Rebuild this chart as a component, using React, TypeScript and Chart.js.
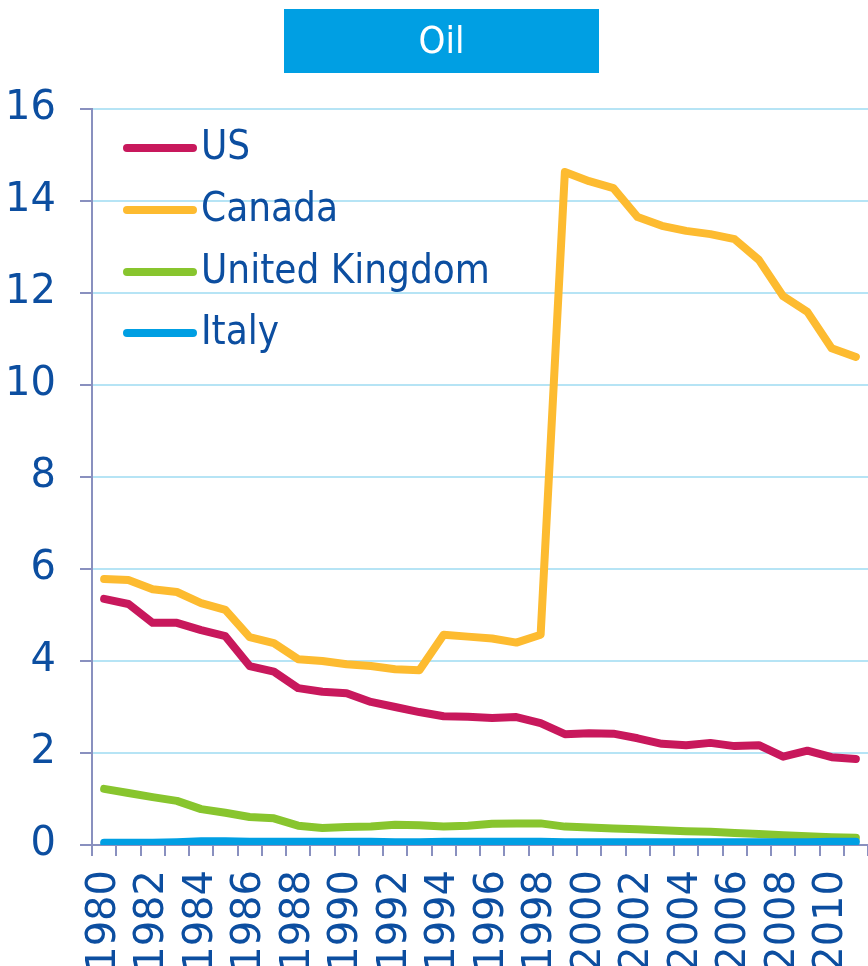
import React, { useEffect, useRef } from "react";
import { Chart, registerables } from "chart.js";

Chart.register(...registerables);

const years: string[] = [
  "1980","1981","1982","1983","1984","1985","1986","1987","1988","1989",
  "1990","1991","1992","1993","1994","1995","1996","1997","1998","1999",
  "2000","2001","2002","2003","2004","2005","2006","2007","2008","2009",
  "2010","2011",
];

const usValues: number[] = [
  5.35, 5.24, 4.83, 4.83, 4.67, 4.54, 3.89, 3.77, 3.41, 3.33,
  3.30, 3.11, 3.00, 2.89, 2.80, 2.79, 2.76, 2.78, 2.65, 2.41,
  2.43, 2.42, 2.32, 2.20, 2.17, 2.22, 2.15, 2.17, 1.92, 2.05,
  1.91, 1.87,
];

const canadaValues: number[] = [
  5.78, 5.76, 5.56, 5.50, 5.26, 5.11, 4.52, 4.39, 4.04, 4.00,
  3.93, 3.89, 3.82, 3.80, 4.57, 4.53, 4.49, 4.40, 4.57, 14.63,
  14.43, 14.28, 13.65, 13.46, 13.35, 13.28, 13.17, 12.72, 11.93, 11.59,
  10.80, 10.61,
];

const ukValues: number[] = [
  1.22, 1.13, 1.04, 0.96, 0.78, 0.70, 0.61, 0.58, 0.42, 0.37,
  0.39, 0.40, 0.44, 0.43, 0.40, 0.42, 0.46, 0.47, 0.47, 0.40,
  0.38, 0.36, 0.34, 0.32, 0.30, 0.29, 0.26, 0.24, 0.21, 0.19,
  0.17, 0.16,
];

const italyValues: number[] = [
  0.05, 0.05, 0.05, 0.06, 0.08, 0.08, 0.07, 0.07, 0.07, 0.07,
  0.07, 0.07, 0.06, 0.06, 0.07, 0.07, 0.07, 0.07, 0.07, 0.06,
  0.06, 0.06, 0.06, 0.06, 0.06, 0.06, 0.06, 0.06, 0.06, 0.06,
  0.07, 0.07,
];

const seriesNames: string[] = ["US", "Canada", "United Kingdom", "Italy"];
const seriesColors: string[] = ["#c8185c", "#fdbb30", "#88c52e", "#009fe3"];
const titleText = "Oil";

const TEXT = "#0c4ea0";
const AXIS = "#8990bf";
const GRID = "#b6e4f5";
const FONT_C = "'DejaVu Sans Condensed', 'DejaVu Sans', sans-serif";
const FONT = "'DejaVu Sans', sans-serif";

const titlePlugin = {
  id: "titleBox",
  beforeDraw(chart: any) {
    const ctx = chart.ctx;
    ctx.save();
    ctx.fillStyle = "#009fe3";
    ctx.fillRect(284, 9, 315, 64);
    ctx.fillStyle = "#ffffff";
    ctx.font = `38px ${FONT_C}`;
    ctx.textAlign = "center";
    ctx.textBaseline = "middle";
    ctx.fillText(titleText, 441.5, 43);
    ctx.restore();
  },
};

const legendPlugin = {
  id: "insideLegend",
  afterDatasetsDraw(chart: any) {
    const ctx = chart.ctx;
    ctx.save();
    const ys = [148, 210, 272, 333];
    chart.data.datasets.forEach((ds: any, i: number) => {
      const y = ys[i];
      ctx.strokeStyle = ds.borderColor;
      ctx.lineWidth = 8;
      ctx.lineCap = "round";
      ctx.beginPath();
      ctx.moveTo(127, y);
      ctx.lineTo(193, y);
      ctx.stroke();
      ctx.fillStyle = TEXT;
      ctx.font = `40px ${FONT_C}`;
      ctx.textAlign = "left";
      ctx.textBaseline = "middle";
      ctx.fillText(ds.label, 201, y + 1);
    });
    ctx.restore();
  },
};

export default function App() {
  const ref = useRef<HTMLCanvasElement | null>(null);

  useEffect(() => {
    document.body.style.margin = "0";
    const canvas = ref.current;
    if (!canvas) return;
    const values = [usValues, canadaValues, ukValues, italyValues];
    const chart = new Chart(canvas, {
      type: "line",
      data: {
        labels: years,
        datasets: seriesNames.map((name, i) => ({
          label: name,
          data: values[i],
          borderColor: seriesColors[i],
          backgroundColor: seriesColors[i],
          borderWidth: 8,
          borderCapStyle: "round",
          borderJoinStyle: "round",
          pointRadius: 0,
          tension: 0,
          fill: false,
          order: 3 - i,
        })),
      },
      options: {
        responsive: false,
        animation: false,
        layout: { padding: { top: 109, right: -8, left: 0, bottom: 0 } },
        plugins: {
          legend: { display: false },
          tooltip: { enabled: false },
          title: { display: false },
        },
        scales: {
          x: {
            type: "category",
            offset: true,
            grid: {
              offset: true,
              drawOnChartArea: false,
              drawTicks: true,
              tickLength: 11,
              tickColor: AXIS,
              lineWidth: 2,
              color: AXIS,
            },
            border: { color: AXIS, width: 2 },
            ticks: {
              autoSkip: false,
              minRotation: 90,
              maxRotation: 90,
              padding: 14,
              color: TEXT,
              font: { family: FONT, size: 40 },
              callback: function (this: any, _v: any, index: number) {
                const y = parseInt(years[index], 10);
                return y % 2 === 0 ? years[index] : "";
              },
            },
            afterFit(scale: any) {
              scale.height = 121;
              scale.paddingLeft = 0;
              scale.paddingRight = 0;
            },
          },
          y: {
            min: 0,
            max: 16,
            grid: {
              color: GRID,
              lineWidth: 2,
              tickLength: 12,
              tickColor: AXIS,
            },
            border: { color: AXIS, width: 2 },
            ticks: {
              stepSize: 2,
              padding: 24,
              color: TEXT,
              font: { family: FONT, size: 40 },
            },
            afterFit(scale: any) {
              scale.width = 92;
              scale.paddingTop = 0;
              scale.paddingBottom = 0;
            },
          },
        },
      },
      plugins: [titlePlugin, legendPlugin],
    } as any);
    return () => chart.destroy();
  }, []);

  return (
    <div style={{ width: 868, height: 966, overflow: "hidden", background: "#ffffff" }}>
      <canvas ref={ref} width={868} height={966} style={{ display: "block" }} />
    </div>
  );
}
